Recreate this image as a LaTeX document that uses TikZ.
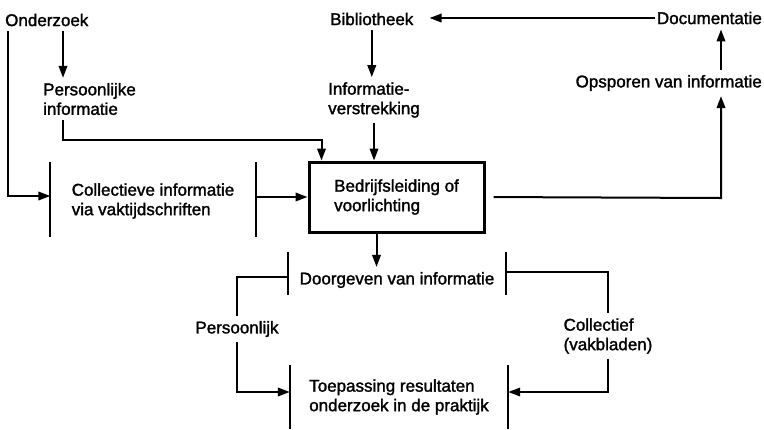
\documentclass[tikz,border=0pt]{standalone}
\usepackage{fontspec}
\usepackage{tikz}
\usetikzlibrary{arrows.meta}
\newfontfamily\lblfont{Liberation Sans}[FakeBold=1.6]

\begin{document}
\begin{tikzpicture}[x=1bp, y=-1bp,
		lbl/.style={font=\lblfont\fontsize{17bp}{19.5bp}\selectfont, align=left, inner xsep=2bp, inner ysep=5bp},
		ln/.style={line width=2bp},
		arr/.style={ln, -{Triangle[length=12bp, width=8.5bp]}}
	]
			% Page frame
			\useasboundingbox (0,0) rectangle (764,429);

			% Sources (top row)
			\node[lbl, anchor=west] (onderzoek) at (3,20) {Onderzoek};
			\node[lbl, anchor=west] (bibl) at (328,19) {Bibliotheek};
			\node[lbl, anchor=east] (docu) at (764,18) {Documentatie};

			% Second row
			\node[lbl, anchor=west] (persinfo) at (41,99) {Persoonlijke\\informatie};
			\node[lbl, anchor=west] (info) at (326,100) {Informatie-\\verstrekking};
			\node[lbl, anchor=east] (opsporen) at (764,83) {Opsporen van informatie};

			% Middle
			\node[lbl, minimum width=205bp] (coll) at (153,201) {Collectieve informatie\\via vaktijdschriften};
			\node[lbl, draw, line width=3bp, minimum width=175bp, minimum height=70bp, inner xsep=4bp] (box) at (396.5,197) {Bedrijfsleiding of\\voorlichting};

			% Lower part
			\node[lbl, minimum width=218bp] (door) at (397,280) {Doorgeven van informatie};
			\node[lbl] (persl) at (237,329) {Persoonlijk};
			\node[lbl] (collf) at (608,336) {Collectief\\(vakbladen)};
			\node[lbl, minimum width=218bp] (toep) at (399,397) {Toepassing resultaten\\onderzoek in de praktijk};

			% Side bars
			\foreach \n/\t/\b in {coll/16/13, door/15/2, toep/9/9} {
					\draw[ln] ([yshift=\t bp]\n.north west) -- ([yshift=-\b bp]\n.south west)
						([yshift=\t bp]\n.north east) -- ([yshift=-\b bp]\n.south east);
				}

			% Corner points
			\coordinate (lt) at (8,196);
			\coordinate (pl) at (63,140);
			\coordinate (rt) at (721,198);

			% Onderzoek
			\draw[arr] (lt |- onderzoek.south) -- (lt) -- (coll.west |- lt);
			\draw[arr] (pl |- onderzoek.south) -- (pl |- persinfo.north);
			\draw[arr] (pl |- persinfo.south) -- (pl) -| ([xshift=14bp]box.north west);

			% Bibliotheek
			\draw[arr] (bibl.south) -- (bibl.south |- info.north);
			\draw[arr] (info.south) -- (info.south |- box.north);
			\draw[arr, shorten >=14bp] (docu.west) -- (bibl.east |- docu.west);

			% Opsporen
			\draw[arr, shorten <=8bp] (box.east) -- (rt) -- (rt |- opsporen.south);
			\draw[arr] (rt |- opsporen.north) -- (rt |- docu.south);

			% Collectieve informatie
			\draw[arr] (coll.east |- box.west) -- (box.west);

			% Doorgeven
			\draw[arr] ([xshift=-20bp]box.south) -- ([xshift=-20bp]box.south |- door.north);
			\draw[ln] ([yshift=3bp]door.west) -| (persl.north);
			\draw[ln] ([yshift=8bp]door.east) -| (collf.north);
			\draw[arr] (persl.south) |- ([yshift=5bp]toep.west);
			\draw[arr] (collf.south) |- ([yshift=5bp]toep.east);
		\end{tikzpicture}
\end{document}
